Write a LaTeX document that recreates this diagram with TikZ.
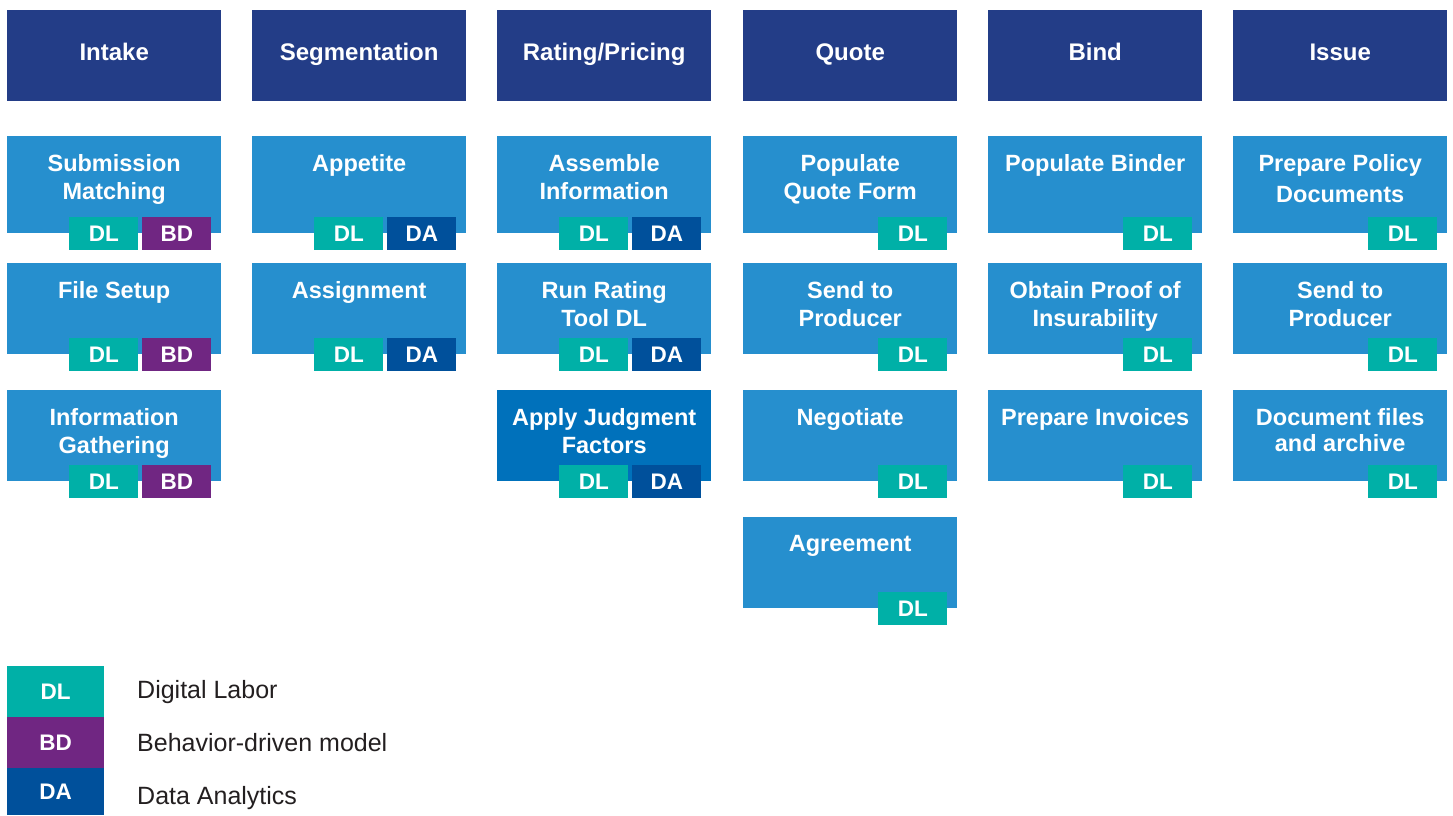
\documentclass[tikz,border=0pt]{standalone}
\usepackage{fontspec}
\setmainfont{Liberation Sans}
\definecolor{headblue}{RGB}{35,61,135}
\definecolor{taskblue}{RGB}{38,143,206}
\definecolor{deepblue}{RGB}{0,113,187}
\definecolor{dlteal}{RGB}{0,176,167}
\definecolor{bdpurple}{RGB}{112,38,130}
\definecolor{dablue}{RGB}{0,80,155}
\definecolor{keygray}{RGB}{35,31,32}

\begin{document}
\begin{tikzpicture}[x=1pt,y=-1pt,
    phase/.style ={fill=headblue, text=white, minimum width=214, minimum height=91,
      text height=17, text depth=8,
      inner sep=0, anchor=north west, font=\bfseries\fontsize{24}{28}\selectfont},
    task/.style ={fill=taskblue, minimum width=214, minimum height=91, inner sep=0, anchor=north west},
    tasktext/.style ={text=white, align=center, anchor=north, inner sep=0,
      font=\bfseries\fontsize{23.5}{28}\selectfont},
    badge/.style ={text=white, minimum width=69, minimum height=33, inner sep=0,
      font=\bfseries\fontsize{22.5}{26}\selectfont},
    dl/.style ={badge, fill=dlteal},
    bd/.style ={badge, fill=bdpurple},
    da/.style ={badge, fill=dablue},
    keytext/.style ={text=keygray, anchor=base west, inner sep=0, font=\fontsize{25}{30}\selectfont}]
   \useasboundingbox (0,0) rectangle (1453,815);
   % phases
   \node[phase] (intake) at (7,10) {Intake};
   \node[phase] (segment) at (252,10) {Segmentation};
   \node[phase] (rating) at (497,10) {Rating/Pricing};
   \node[phase] (quote) at (743,10) {Quote};
   \node[phase] (bind) at (988,10) {Bind};
   \node[phase] (issue) at (1233,10) {Issue};

   % intake
   \node[task, minimum height=97] (sub) at (7,136) {};
   \node[tasktext] (sub-t) at ([yshift=-18]sub.north) {Submission\\Matching};
   \node[dl] (sub-dl) at ([xshift=-117.5]sub.south east) {DL};
   \node[bd] (sub-bd) at ([xshift=-44.5]sub.south east) {BD};
   \node[task] (file) at (7,263) {};
   \node[tasktext] (file-t) at ([yshift=-18]file.north) {File Setup};
   \node[dl] (file-dl) at ([xshift=-117.5]file.south east) {DL};
   \node[bd] (file-bd) at ([xshift=-44.5]file.south east) {BD};
   \node[task] (info) at (7,390) {};
   \node[tasktext] (info-t) at ([yshift=-18]info.north) {Information\\Gathering};
   \node[dl] (info-dl) at ([xshift=-117.5]info.south east) {DL};
   \node[bd] (info-bd) at ([xshift=-44.5]info.south east) {BD};

   % segmentation
   \node[task, minimum height=97] (appetite) at (252,136) {};
   \node[tasktext] (appetite-t) at ([yshift=-18]appetite.north) {Appetite};
   \node[dl] (appetite-dl) at ([xshift=-117.5]appetite.south east) {DL};
   \node[da] (appetite-da) at ([xshift=-44.5]appetite.south east) {DA};
   \node[task] (assign) at (252,263) {};
   \node[tasktext] (assign-t) at ([yshift=-18]assign.north) {Assignment};
   \node[dl] (assign-dl) at ([xshift=-117.5]assign.south east) {DL};
   \node[da] (assign-da) at ([xshift=-44.5]assign.south east) {DA};

   % rating/pricing
   \node[task, minimum height=97] (assemble) at (497,136) {};
   \node[tasktext] (assemble-t) at ([yshift=-18]assemble.north) {Assemble\\Information};
   \node[dl] (assemble-dl) at ([xshift=-117.5]assemble.south east) {DL};
   \node[da] (assemble-da) at ([xshift=-44.5]assemble.south east) {DA};
   \node[task] (run) at (497,263) {};
   \node[tasktext] (run-t) at ([yshift=-18]run.north) {Run Rating\\Tool DL};
   \node[dl] (run-dl) at ([xshift=-117.5]run.south east) {DL};
   \node[da] (run-da) at ([xshift=-44.5]run.south east) {DA};
   \node[task, fill=deepblue] (judge) at (497,390) {};
   \node[tasktext] (judge-t) at ([yshift=-18]judge.north) {Apply Judgment\\Factors};
   \node[dl] (judge-dl) at ([xshift=-117.5]judge.south east) {DL};
   \node[da] (judge-da) at ([xshift=-44.5]judge.south east) {DA};

   % quote
   \node[task, minimum height=97] (qform) at (743,136) {};
   \node[tasktext] (qform-t) at ([yshift=-18]qform.north) {Populate\\Quote Form};
   \node[dl] (qform-dl) at ([xshift=-44.5]qform.south east) {DL};
   \node[task] (qsend) at (743,263) {};
   \node[tasktext] (qsend-t) at ([yshift=-18]qsend.north) {Send to\\Producer};
   \node[dl] (qsend-dl) at ([xshift=-44.5]qsend.south east) {DL};
   \node[task] (nego) at (743,390) {};
   \node[tasktext] (nego-t) at ([yshift=-18]nego.north) {Negotiate};
   \node[dl] (nego-dl) at ([xshift=-44.5]nego.south east) {DL};
   \node[task] (agree) at (743,517) {};
   \node[tasktext] (agree-t) at ([yshift=-18]agree.north) {Agreement};
   \node[dl] (agree-dl) at ([xshift=-44.5]agree.south east) {DL};

   % bind
   \node[task, minimum height=97] (binder) at (988,136) {};
   \node[tasktext] (binder-t) at ([yshift=-18]binder.north) {Populate Binder};
   \node[dl] (binder-dl) at ([xshift=-44.5]binder.south east) {DL};
   \node[task] (proof) at (988,263) {};
   \node[tasktext] (proof-t) at ([yshift=-18]proof.north) {Obtain Proof of\\Insurability};
   \node[dl] (proof-dl) at ([xshift=-44.5]proof.south east) {DL};
   \node[task] (invoice) at (988,390) {};
   \node[tasktext] (invoice-t) at ([yshift=-18]invoice.north) {Prepare Invoices};
   \node[dl] (invoice-dl) at ([xshift=-44.5]invoice.south east) {DL};

   % issue
   \node[task, minimum height=97] (policy) at (1233,136) {};
   \node[tasktext, font=\bfseries\fontsize{23.5}{31}\selectfont] (policy-t) at ([yshift=-18]policy.north) {Prepare Policy\\Documents};
   \node[dl] (policy-dl) at ([xshift=-44.5]policy.south east) {DL};
   \node[task] (isend) at (1233,263) {};
   \node[tasktext] (isend-t) at ([yshift=-18]isend.north) {Send to\\Producer};
   \node[dl] (isend-dl) at ([xshift=-44.5]isend.south east) {DL};
   \node[task] (archive) at (1233,390) {};
   \node[tasktext, font=\bfseries\fontsize{23.5}{26}\selectfont] (archive-t) at ([yshift=-18]archive.north) {Document files\\and archive};
   \node[dl] (archive-dl) at ([xshift=-44.5]archive.south east) {DL};

   % key
   \node[dl, minimum width=97, minimum height=51, anchor=north west] (key-dl) at (7,666) {DL};
   \node[bd, minimum width=97, minimum height=51, anchor=north west] (key-bd) at (7,717) {BD};
   \node[da, minimum width=97, minimum height=47, anchor=north west] (key-da) at (7,768) {DA};
   \node[keytext] (key-dl-t) at (137,698) {Digital Labor};
   \node[keytext] (key-bd-t) at (137,751) {Behavior-driven model};
   \node[keytext] (key-da-t) at (137,804) {Data Analytics};
 \end{tikzpicture}
\end{document}
